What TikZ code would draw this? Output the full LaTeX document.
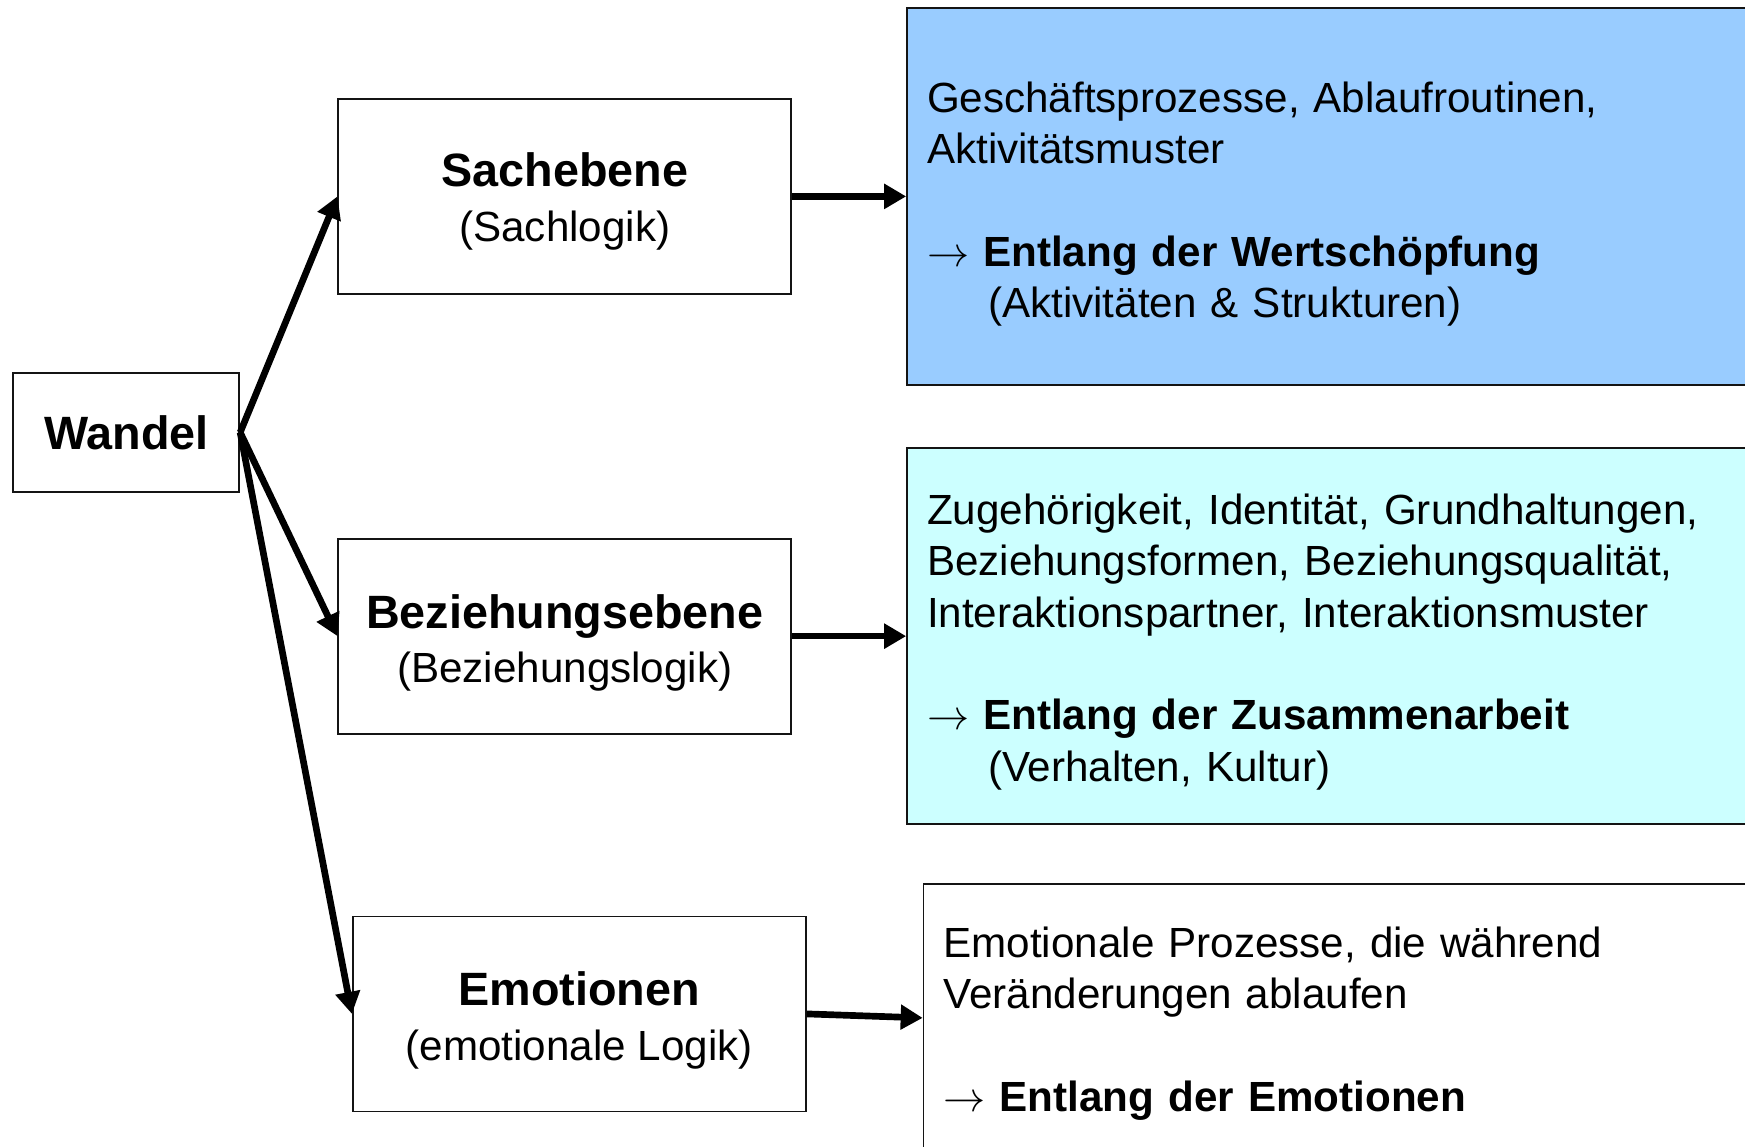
\documentclass[tikz,border=0pt]{standalone}
\usepackage{fontspec}
\setmainfont{Liberation Sans}
\usetikzlibrary{arrows.meta, positioning}
\definecolor{levelBlue}{RGB}{153,204,255}
\definecolor{levelCyan}{RGB}{204,255,255}
\definecolor{levelLine}{RGB}{20,20,20}
\newcommand{\lvlhead}[1]{{\fontsize{13.3}{14.6}\selectfont\bfseries #1}}
\newcommand{\lvlto}{$\rightarrow$ }

\begin{document}
\begin{tikzpicture}[
    node distance=1.14cm,
    box/.style={draw=levelLine, line width=0.5pt, fill=white, minimum width=4.53cm, minimum height=1.95cm, align=center, font=\fontsize{12}{14.6}\selectfont},
    info/.style={draw=levelLine, line width=0.5pt, text width=8.2cm, inner xsep=0.2cm, align=left, font=\fontsize{12}{14.6}\selectfont},
    arrow/.style={-{Triangle[length=0.22cm, width=0.24cm]}, line width=1.9pt}
]
    \useasboundingbox (0,0) rectangle (17.45,-11.47);
    \clip (0,0) rectangle (17.45,-11.47);

    \node[box, minimum width=2.26cm, minimum height=1.19cm] (wandel) at (1.263,-4.324) {\lvlhead{Wandel}};
    \node[box] (sach) at (5.648,-1.964) {\rule{0pt}{12.3pt}\lvlhead{Sachebene}\\[1pt](Sachlogik)};
    \node[box, below=2.43cm of sach] (bez) {\rule{0pt}{13.5pt}\lvlhead{Beziehungsebene}\\[1pt](Beziehungslogik)};
    \node[box, below=1.81cm of bez, xshift=0.145cm] (emo) {\rule{0pt}{13.5pt}\lvlhead{Emotionen}\\[1pt](emotionale Logik)};

    \node[info, fill=levelBlue, minimum height=3.77cm, right=of sach] (sachinfo) {\rule{0pt}{13pt}Geschäftsprozesse, Ablaufroutinen,\\Aktivitätsmuster\\[14.6pt]\lvlto\textbf{Entlang der Wertschöpfung}\\\hspace*{0.61cm}(Aktivitäten \& Strukturen)};
    \node[info, fill=levelCyan, minimum height=3.76cm, right=of bez] (bezinfo) {\rule{0pt}{12pt}Zugehörigkeit, Identität, Grundhaltungen,\\Beziehungsformen, Beziehungsqualität,\\Interaktionspartner, Interaktionsmuster\\[14.6pt]\lvlto\textbf{Entlang der Zusammenarbeit}\\\hspace*{0.61cm}(Verhalten, Kultur)};
    \node[info, fill=white, minimum height=2.68cm, right=1.16cm of emo, yshift=-0.04cm] (emoinfo) {\rule{0pt}{11.9pt}Emotionale Prozesse, die während\\Veränderungen ablaufen\\[14.6pt]\lvlto\textbf{Entlang der Emotionen}};

    \draw[arrow] (wandel.east) -- (sach.west);
    \draw[arrow] (wandel.east) -- (bez.west);
    \draw[arrow] (wandel.east) -- (emo.west);
    \draw[arrow] (sach.east) -- (sachinfo.west);
    \draw[arrow] (bez.east) -- (bezinfo.west);
    \draw[arrow] (emo.east) -- (emoinfo.west);
\end{tikzpicture}
\end{document}
